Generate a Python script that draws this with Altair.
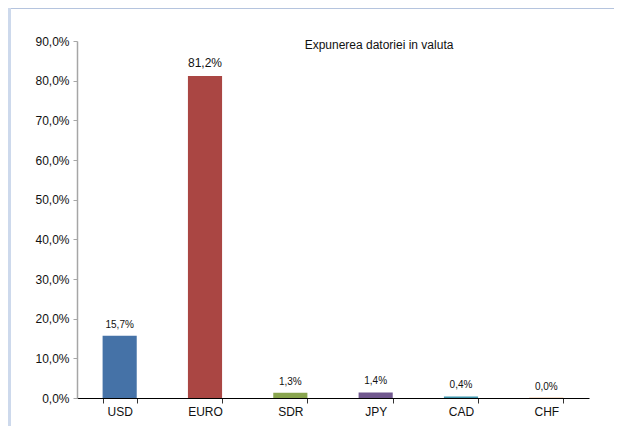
import altair as alt
import pandas as pd

currencies = ["USD", "EURO", "SDR", "JPY", "CAD", "CHF"]
shares = [15.7, 81.2, 1.3, 1.4, 0.4, 0.04]
colors = ["#4572A7", "#AA4643", "#89A54E", "#71588F", "#4198AF", "#DB843D"]
title_text = "Expunerea datoriei in valuta"

df = pd.DataFrame({"currency": currencies, "share": shares})

FONT = "Liberation Sans"

x = alt.X(
    "currency:N",
    sort=currencies,
    title=None,
    scale=alt.Scale(paddingInner=0.6, paddingOuter=0.3),
    axis=alt.Axis(
        labelAngle=0, domainColor="#000000", tickColor="#333333", tickBand="extent",
        tickSize=5, labelPadding=3, labelFontSize=12, labelFont=FONT, labelColor="#111111",
        domainWidth=1.2,
    ),
)
y = alt.Y(
    "share:Q",
    title=None,
    scale=alt.Scale(domain=[0, 90], nice=False),
    axis=alt.Axis(
        values=list(range(0, 91, 10)), grid=False, labelOverlap=False,
        labelExpr="replace(format(datum.value, '.1f'), '.', ',') + '%'",
        domainColor="#A6A6A6", tickColor="#A6A6A6", domainWidth=1.5, tickSize=4,
        labelPadding=4, labelFontSize=12, labelFont=FONT, labelColor="#111111",
    ),
)

base = alt.Chart(df).transform_calculate(
    label="replace(format(datum.share, '.1f'), '.', ',') + '%'"
).encode(x=x, y=y)

bars = base.mark_bar().encode(
    color=alt.Color("currency:N", scale=alt.Scale(domain=currencies, range=colors), legend=None),
)

labels = base.mark_text(dy=-6, baseline="bottom", font=FONT, color="#111111").encode(
    text="label:N",
    size=alt.condition("datum.share > 50", alt.value(12), alt.value(10)),
)

frame = alt.Chart(pd.DataFrame({"k": [0]}))
top_line = frame.mark_rule(color="#9DB0D3", strokeWidth=1.5).encode(
    x=alt.value(-69), x2=alt.value(537), y=alt.value(-33)
)
left_line = frame.mark_rule(color="#CDD9EC", strokeWidth=3).encode(
    x=alt.value(-67.5), y=alt.value(-33), y2=alt.value(385)
)

chart = alt.layer(bars, labels, top_line, left_line).properties(
    width=512,
    height=357,
    padding={"left": 69, "top": 33, "right": 25, "bottom": 28},
    autosize=alt.AutoSizeParams(type="none"),
    title=alt.TitleParams(
        title_text, anchor="middle", dx=46, dy=45, offset=0,
        font=FONT, fontSize=12, fontWeight="normal", color="#111111",
    ),
).configure_view(stroke=None)

chart.save("out.html", embed_options={"renderer": "svg", "actions": False})
